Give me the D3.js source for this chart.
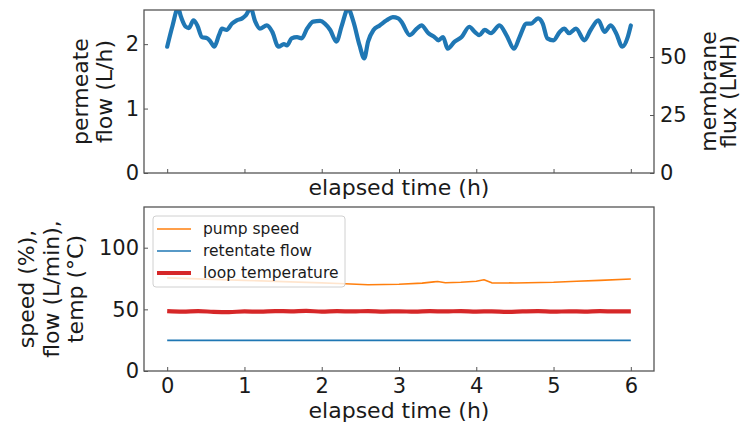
<!DOCTYPE html>
<html>
<head>
<meta charset="utf-8">
<script src="https://cdn.jsdelivr.net/npm/d3@7"></script>
<style>
  body { margin: 0; background: #fff; }
  text { font-family: "DejaVu Sans", sans-serif; fill: #1a1a1a; }
</style>
</head>
<body>
<svg id="chart" width="742" height="424"></svg>
<script>
// ---- data -------------------------------------------------------------
const hourTicks = [0, 1, 2, 3, 4, 5, 6];
const flowTicks = [0, 1, 2];
const fluxTicks = [0, 25, 50];
const bottomTicks = [0, 50, 100];

// permeate flow (L/h) over elapsed time (h)
const permeateTime = [0.00,0.07,0.14,0.18,0.24,0.28,0.34,0.39,0.45,0.52,0.56,0.61,0.67,0.71,0.77,0.84,0.90,0.97,1.02,1.08,1.14,1.20,1.29,1.36,1.44,1.51,1.55,1.61,1.68,1.74,1.81,1.89,1.98,2.04,2.11,2.19,2.26,2.34,2.41,2.49,2.55,2.60,2.67,2.75,2.84,2.92,2.99,3.03,3.14,3.23,3.29,3.38,3.46,3.51,3.57,3.63,3.72,3.81,3.91,3.98,4.04,4.11,4.19,4.30,4.39,4.49,4.56,4.65,4.71,4.80,4.86,4.92,5.00,5.08,5.14,5.20,5.29,5.40,5.48,5.58,5.66,5.74,5.81,5.89,5.96,6.00];
const permeateFlow = [1.96,2.29,2.56,2.42,2.27,2.25,2.37,2.29,2.11,2.09,2.04,1.96,2.14,2.24,2.22,2.32,2.37,2.40,2.45,2.56,2.35,2.24,2.29,2.19,1.96,2.00,1.98,2.09,2.11,2.09,2.24,2.35,2.36,2.32,2.22,2.04,2.29,2.55,2.35,1.98,1.78,2.04,2.22,2.29,2.37,2.42,2.40,2.35,2.14,2.24,2.29,2.17,2.11,2.06,2.11,1.93,2.04,2.11,2.27,2.19,2.14,2.22,2.17,2.29,2.14,1.93,2.11,2.32,2.32,2.40,2.32,2.09,2.06,2.19,2.24,2.17,2.24,2.06,2.22,2.37,2.19,2.29,2.17,1.96,2.11,2.29];

// membrane area (m²) used to convert L/h to LMH
const membraneArea = 0.036;

// pump speed (%)
const pumpTime  = [0, 0.5, 1.0, 1.5, 2.0, 2.3, 2.6, 3.0, 3.3, 3.45, 3.5, 3.6, 3.8, 4.0, 4.1, 4.2, 4.5, 5.0, 5.3, 5.6, 6.0];
const pumpSpeed = [75.5, 74.5, 73.5, 72.5, 71.5, 70.7, 70.0, 70.3, 71.3, 72.3, 72.6, 71.6, 72.0, 72.8, 74.0, 71.5, 71.4, 72.0, 72.8, 73.5, 74.6];

// retentate flow (L/min)
const retentateTime = [0, 1, 2, 3, 4, 5, 6];
const retentateFlow = [24.8, 24.8, 24.8, 24.8, 24.8, 24.8, 24.8];

// loop temperature (°C)
const tempTime = [0,0.2,0.4,0.6,0.8,1.0,1.2,1.4,1.6,1.8,2.0,2.2,2.4,2.6,2.8,3.0,3.2,3.4,3.6,3.8,4.0,4.2,4.4,4.6,4.8,5.0,5.2,5.4,5.6,5.8,6.0];
const loopTemp = [48.6,48.2,48.5,48.0,47.8,48.3,48.1,48.6,48.4,48.7,48.2,48.5,48.3,48.6,48.2,48.4,48.1,48.5,48.3,48.6,48.2,48.4,48.0,48.3,48.5,48.1,48.4,48.2,48.5,48.3,48.4];

const seriesNames = ["pump speed", "retentate flow", "loop temperature"];
const seriesColors = ["#ff7f0e", "#1f77b4", "#d62728"];

// ---- layout -----------------------------------------------------------
const svg = d3.select("#chart");
const TICK_FS = 21;
const LABEL_FS = 22;
const spine = "#555";
const left = 144, right = 654;
const top1 = 10, bot1 = 173;
const top2 = 207, bot2 = 371;

const x = d3.scaleLinear().domain([-0.3, 6.3]).range([left, right]);
const yFlow = d3.scaleLinear().domain([0, 2.53]).range([bot1, top1]);
const yFlux = d3.scaleLinear().domain([0, 2.53 / membraneArea]).range([bot1, top1]);
const y2 = d3.scaleLinear().domain([0, 133]).range([bot2, top2]);

svg.append("rect").attr("width", 742).attr("height", 424).attr("fill", "#fff");

const defs = svg.append("defs");
defs.append("clipPath").attr("id", "clipTop")
  .append("rect").attr("x", left).attr("y", top1).attr("width", right - left).attr("height", bot1 - top1);
defs.append("clipPath").attr("id", "clipBot")
  .append("rect").attr("x", left).attr("y", top2).attr("width", right - left).attr("height", bot2 - top2);

function styleAxis(g) {
  g.select(".domain").remove();
  g.selectAll(".tick line").attr("stroke", spine).attr("stroke-width", 1);
  g.selectAll(".tick text").attr("font-size", TICK_FS).attr("fill", "#1a1a1a")
    .attr("font-family", "DejaVu Sans, sans-serif");
}

// ---- top panel: permeate flow ------------------------------------------
const topLine = d3.line()
  .x((d, i) => x(permeateTime[i]))
  .y(d => yFlow(d))
  .curve(d3.curveMonotoneX);

svg.append("path")
  .datum(permeateFlow)
  .attr("clip-path", "url(#clipTop)")
  .attr("d", topLine)
  .attr("fill", "none")
  .attr("stroke", "#1f77b4")
  .attr("stroke-width", 4.2)
  .attr("stroke-linejoin", "round")
  .attr("stroke-linecap", "round");

svg.append("g").attr("transform", `translate(0,${bot1})`)
  .call(d3.axisBottom(x).tickValues(hourTicks).tickSizeInner(-4).tickSizeOuter(0).tickFormat(""))
  .call(styleAxis);
svg.append("g").attr("transform", `translate(${left},0)`)
  .call(d3.axisLeft(yFlow).tickValues(flowTicks).tickSizeInner(-4).tickSizeOuter(0).tickPadding(5).tickFormat(d3.format("d")))
  .call(styleAxis);
svg.append("g").attr("transform", `translate(${right},0)`)
  .call(d3.axisRight(yFlux).tickValues(fluxTicks).tickSizeInner(-4).tickSizeOuter(0).tickPadding(6).tickFormat(d3.format("d")))
  .call(styleAxis);

svg.append("rect").attr("x", left).attr("y", top1).attr("width", right - left).attr("height", bot1 - top1)
  .attr("fill", "none").attr("stroke", spine).attr("stroke-width", 1.3);

svg.append("text").attr("x", (left + right) / 2).attr("y", 195).attr("text-anchor", "middle")
  .attr("font-size", LABEL_FS).text("elapsed time (h)");

function vLabel(lines, baselines, cy) {
  lines.forEach((t, i) => {
    svg.append("text")
      .attr("transform", `translate(${baselines[i]},${cy}) rotate(-90)`)
      .attr("text-anchor", "middle")
      .attr("font-size", LABEL_FS)
      .text(t);
  });
}
vLabel(["permeate", "flow (L/h)"], [88, 112], (top1 + bot1) / 2);
vLabel(["membrane", "flux (LMH)"], [716, 736], (top1 + bot1) / 2);

// ---- bottom panel: pump speed, retentate flow, loop temperature --------
const gBot = svg.append("g").attr("clip-path", "url(#clipBot)");

function seriesLine(times) {
  return d3.line().x((d, i) => x(times[i])).y(d => y2(d));
}

gBot.append("path").datum(retentateFlow).attr("d", seriesLine(retentateTime))
  .attr("fill", "none").attr("stroke", seriesColors[1]).attr("stroke-width", 1.6);
gBot.append("path").datum(loopTemp).attr("d", seriesLine(tempTime).curve(d3.curveMonotoneX))
  .attr("fill", "none").attr("stroke", seriesColors[2]).attr("stroke-width", 4.2)
  .attr("stroke-linejoin", "round");
gBot.append("path").datum(pumpSpeed).attr("d", seriesLine(pumpTime))
  .attr("fill", "none").attr("stroke", seriesColors[0]).attr("stroke-width", 1.6)
  .attr("stroke-linejoin", "round");

svg.append("g").attr("transform", `translate(0,${bot2})`)
  .call(d3.axisBottom(x).tickValues(hourTicks).tickSizeInner(-4).tickSizeOuter(0).tickPadding(7).tickFormat(d3.format("d")))
  .call(styleAxis);
svg.append("g").attr("transform", `translate(${left},0)`)
  .call(d3.axisLeft(y2).tickValues(bottomTicks).tickSizeInner(-4).tickSizeOuter(0).tickPadding(5).tickFormat(d3.format("d")))
  .call(styleAxis);

svg.append("rect").attr("x", left).attr("y", top2).attr("width", right - left).attr("height", bot2 - top2)
  .attr("fill", "none").attr("stroke", spine).attr("stroke-width", 1.3);

svg.append("text").attr("x", (left + right) / 2).attr("y", 418).attr("text-anchor", "middle")
  .attr("font-size", LABEL_FS).text("elapsed time (h)");

vLabel(["speed (%),", "flow (L/min),", "temp (°C)"], [34, 59, 83], (top2 + bot2) / 2);

// legend
const legend = svg.append("g");
legend.append("rect").attr("x", 153).attr("y", 216).attr("width", 192).attr("height", 71)
  .attr("rx", 3).attr("fill", "#fff").attr("fill-opacity", 0.8)
  .attr("stroke", "#d0d0d0").attr("stroke-width", 1);
const legendWidths = [1.6, 1.6, 4.2];
seriesNames.forEach((name, i) => {
  const ly = 229 + i * 22;
  legend.append("line").attr("x1", 157).attr("x2", 191).attr("y1", ly).attr("y2", ly)
    .attr("stroke", seriesColors[i]).attr("stroke-width", legendWidths[i]);
  legend.append("text").attr("x", 203).attr("y", ly).attr("dy", "0.35em")
    .attr("font-size", 15.5).text(name);
});
</script>
</body>
</html>
